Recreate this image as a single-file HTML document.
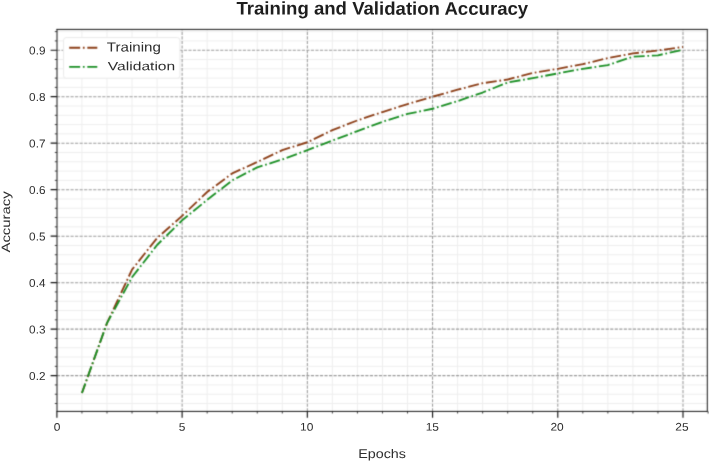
<!DOCTYPE html><html><head><meta charset="utf-8"><style>html,body{margin:0;padding:0;background:#fff;width:709px;height:462px;overflow:hidden}#c{width:709px;height:462px;will-change:transform;}svg{display:block}text{font-family:"Liberation Sans",sans-serif;text-rendering:geometricPrecision}</style></head><body><div id="c">
<svg width="709" height="462" viewBox="0 0 709 462">
<defs><filter id="bl" filterUnits="userSpaceOnUse" x="0" y="0" width="709" height="462" color-interpolation-filters="sRGB"><feConvolveMatrix order="3" kernelMatrix="0.02250 0.10500 0.02250 0.10500 0.49000 0.10500 0.02250 0.10500 0.02250" edgeMode="duplicate"/></filter></defs><g filter="url(#bl)">
<rect x="0" y="0" width="709" height="462" fill="#fff"/>
<path d="M56.9 403.52H707.3 M56.9 394.23H707.3 M56.9 384.93H707.3 M56.9 366.33H707.3 M56.9 357.03H707.3 M56.9 347.74H707.3 M56.9 338.44H707.3 M56.9 319.84H707.3 M56.9 310.54H707.3 M56.9 301.25H707.3 M56.9 291.95H707.3 M56.9 273.35H707.3 M56.9 264.05H707.3 M56.9 254.76H707.3 M56.9 245.46H707.3 M56.9 226.86H707.3 M56.9 217.56H707.3 M56.9 208.27H707.3 M56.9 198.97H707.3 M56.9 180.37H707.3 M56.9 171.07H707.3 M56.9 161.78H707.3 M56.9 152.48H707.3 M56.9 133.88H707.3 M56.9 124.58H707.3 M56.9 115.29H707.3 M56.9 105.99H707.3 M56.9 87.39H707.3 M56.9 78.09H707.3 M56.9 68.80H707.3 M56.9 59.50H707.3 M56.9 40.90H707.3 M56.9 31.60H707.3" stroke="#eeeeee" stroke-width="1" fill="none"/>
<path d="M81.94 29.4V411.4 M106.99 29.4V411.4 M132.03 29.4V411.4 M157.08 29.4V411.4 M207.16 29.4V411.4 M232.21 29.4V411.4 M257.25 29.4V411.4 M282.30 29.4V411.4 M332.38 29.4V411.4 M357.43 29.4V411.4 M382.47 29.4V411.4 M407.52 29.4V411.4 M457.60 29.4V411.4 M482.65 29.4V411.4 M507.69 29.4V411.4 M532.74 29.4V411.4 M582.82 29.4V411.4 M607.87 29.4V411.4 M632.91 29.4V411.4 M657.96 29.4V411.4" stroke="#eeeeee" stroke-width="1" fill="none"/>
<path d="M56.9 375.63H707.3 M56.9 329.14H707.3 M56.9 282.65H707.3 M56.9 236.16H707.3 M56.9 189.67H707.3 M56.9 143.18H707.3 M56.9 96.69H707.3 M56.9 50.20H707.3 M182.12 411.4V29.4 M307.34 411.4V29.4 M432.56 411.4V29.4 M557.78 411.4V29.4 M683.00 411.4V29.4" stroke="#9a9a9a" stroke-width="1.05" stroke-dasharray="3.166 1.369" fill="none"/>
<polyline points="81.94,393.02 106.99,323.10 132.03,269.63 157.08,238.02 182.12,215.89 207.16,191.99 232.21,173.40 257.25,162.01 282.30,150.15 307.34,142.25 332.38,130.16 357.43,120.40 382.47,112.03 407.52,104.13 432.56,96.69 457.60,89.72 482.65,83.21 507.69,79.49 532.74,72.98 557.78,68.80 582.82,64.15 607.87,58.10 632.91,53.45 657.96,50.43 683.00,46.95" fill="none" stroke="#8c3f18" stroke-width="1.85" stroke-dasharray="10.95 2.74 1.71 2.74" stroke-dashoffset="1.25" stroke-linejoin="round"/>
<polyline points="81.94,393.02 106.99,323.10 132.03,277.30 157.08,244.99 182.12,220.35 207.16,199.90 232.21,180.37 257.25,167.35 282.30,159.45 307.34,150.15 332.38,140.62 357.43,131.09 382.47,121.79 407.52,113.89 432.56,108.78 457.60,101.11 482.65,92.51 507.69,82.51 532.74,78.09 557.78,73.45 582.82,68.80 607.87,65.08 632.91,56.71 657.96,55.31 683.00,49.74" fill="none" stroke="#1a8f24" stroke-width="1.85" stroke-dasharray="10.95 2.74 1.71 2.74" stroke-dashoffset="0.85" stroke-linejoin="round"/>
<path d="M56.4 29.4H707.8M56.4 411.4H707.8" stroke="#151515" stroke-width="1.0" fill="none"/>
<path d="M57.0 29.4V411.4" stroke="#151515" stroke-width="1.0" fill="none"/>
<path d="M707.3 29.4V411.4" stroke="#151515" stroke-width="1.0" fill="none"/>
<path d="M50.6 375.63H56.9 M50.6 329.14H56.9 M50.6 282.65H56.9 M50.6 236.16H56.9 M50.6 189.67H56.9 M50.6 143.18H56.9 M50.6 96.69H56.9 M50.6 50.20H56.9 M56.90 411.4V417.7 M182.12 411.4V417.7 M307.34 411.4V417.7 M432.56 411.4V417.7 M557.78 411.4V417.7 M683.00 411.4V417.7" stroke="#151515" stroke-width="1.15" fill="none"/>
<path d="M54.8 403.52H56.9 M54.8 394.23H56.9 M54.8 384.93H56.9 M54.8 366.33H56.9 M54.8 357.03H56.9 M54.8 347.74H56.9 M54.8 338.44H56.9 M54.8 319.84H56.9 M54.8 310.54H56.9 M54.8 301.25H56.9 M54.8 291.95H56.9 M54.8 273.35H56.9 M54.8 264.05H56.9 M54.8 254.76H56.9 M54.8 245.46H56.9 M54.8 226.86H56.9 M54.8 217.56H56.9 M54.8 208.27H56.9 M54.8 198.97H56.9 M54.8 180.37H56.9 M54.8 171.07H56.9 M54.8 161.78H56.9 M54.8 152.48H56.9 M54.8 133.88H56.9 M54.8 124.58H56.9 M54.8 115.29H56.9 M54.8 105.99H56.9 M54.8 87.39H56.9 M54.8 78.09H56.9 M54.8 68.80H56.9 M54.8 59.50H56.9 M54.8 40.90H56.9 M54.8 31.60H56.9 M81.94 411.4V413.5 M106.99 411.4V413.5 M132.03 411.4V413.5 M157.08 411.4V413.5 M207.16 411.4V413.5 M232.21 411.4V413.5 M257.25 411.4V413.5 M282.30 411.4V413.5 M332.38 411.4V413.5 M357.43 411.4V413.5 M382.47 411.4V413.5 M407.52 411.4V413.5 M457.60 411.4V413.5 M482.65 411.4V413.5 M507.69 411.4V413.5 M532.74 411.4V413.5 M582.82 411.4V413.5 M607.87 411.4V413.5 M632.91 411.4V413.5 M657.96 411.4V413.5 M708.04 411.4V413.5" stroke="#151515" stroke-width="0.8" fill="none"/>
<rect x="63.6" y="37.6" width="116.3" height="40.6" rx="2.5" fill="#fff" fill-opacity="1" stroke="#ebebeb" stroke-width="1"/>
<path d="M69.2 47.7H97.3" stroke="#8c3f18" stroke-width="1.85" stroke-dasharray="10.95 2.74 1.71 2.74"/>
<path d="M69.2 66.8H97.3" stroke="#1a8f24" stroke-width="1.85" stroke-dasharray="10.95 2.74 1.71 2.74"/>
</g>
<g>
<text transform="translate(45.48 380.01) rotate(0.05) scale(0.9801 0.9596)" font-size="12" fill="#2e2e2e" text-anchor="end">0.2</text>
<text transform="translate(45.48 333.52) rotate(0.05) scale(0.9801 0.9596)" font-size="12" fill="#2e2e2e" text-anchor="end">0.3</text>
<text transform="translate(45.48 287.03) rotate(0.05) scale(0.9801 0.9596)" font-size="12" fill="#2e2e2e" text-anchor="end">0.4</text>
<text transform="translate(45.48 240.54) rotate(0.05) scale(0.9801 0.9596)" font-size="12" fill="#2e2e2e" text-anchor="end">0.5</text>
<text transform="translate(45.48 194.05) rotate(0.05) scale(0.9801 0.9596)" font-size="12" fill="#2e2e2e" text-anchor="end">0.6</text>
<text transform="translate(45.48 147.56) rotate(0.05) scale(0.9801 0.9596)" font-size="12" fill="#2e2e2e" text-anchor="end">0.7</text>
<text transform="translate(45.48 101.07) rotate(0.05) scale(0.9801 0.9596)" font-size="12" fill="#2e2e2e" text-anchor="end">0.8</text>
<text transform="translate(45.48 54.58) rotate(0.05) scale(0.9801 0.9596)" font-size="12" fill="#2e2e2e" text-anchor="end">0.9</text>
<text transform="translate(57.18 430.63) rotate(0.05) scale(0.9956 0.9148)" font-size="12" fill="#2e2e2e" text-anchor="middle">0</text>
<text transform="translate(182.01 430.63) rotate(0.05) scale(0.9956 0.9148)" font-size="12" fill="#2e2e2e" text-anchor="middle">5</text>
<text transform="translate(306.66 430.63) rotate(0.05) scale(0.9956 0.9148)" font-size="12" fill="#2e2e2e" text-anchor="middle">10</text>
<text transform="translate(432.29 430.63) rotate(0.05) scale(0.9956 0.9148)" font-size="12" fill="#2e2e2e" text-anchor="middle">15</text>
<text transform="translate(557.12 430.63) rotate(0.05) scale(0.9956 0.9148)" font-size="12" fill="#2e2e2e" text-anchor="middle">20</text>
<text transform="translate(681.97 430.63) rotate(0.05) scale(0.9956 0.9148)" font-size="12" fill="#2e2e2e" text-anchor="middle">25</text>
<text transform="translate(382.10 458.05) rotate(0.05) scale(1.0225 0.9003)" font-size="14" fill="#2e2e2e" text-anchor="middle">Epochs</text>
<text transform="translate(9.73 221.92) rotate(-90) scale(1.0643 0.8646)" font-size="14" fill="#2e2e2e" text-anchor="middle">Accuracy</text>
<text transform="translate(382.30 14.63) rotate(0.05) scale(0.9900 0.9740)" font-size="18.8" fill="#1e1e1e" text-anchor="middle" font-weight="bold">Training and Validation Accuracy</text>
<text transform="translate(106.81 51.55) rotate(0.05) scale(1.0814 0.9373)" font-size="14" fill="#2e2e2e">Training</text>
<text transform="translate(107.85 70.32) rotate(0.05) scale(1.1143 0.8657)" font-size="14" fill="#2e2e2e">Validation</text>
</g></svg></div></body></html>
